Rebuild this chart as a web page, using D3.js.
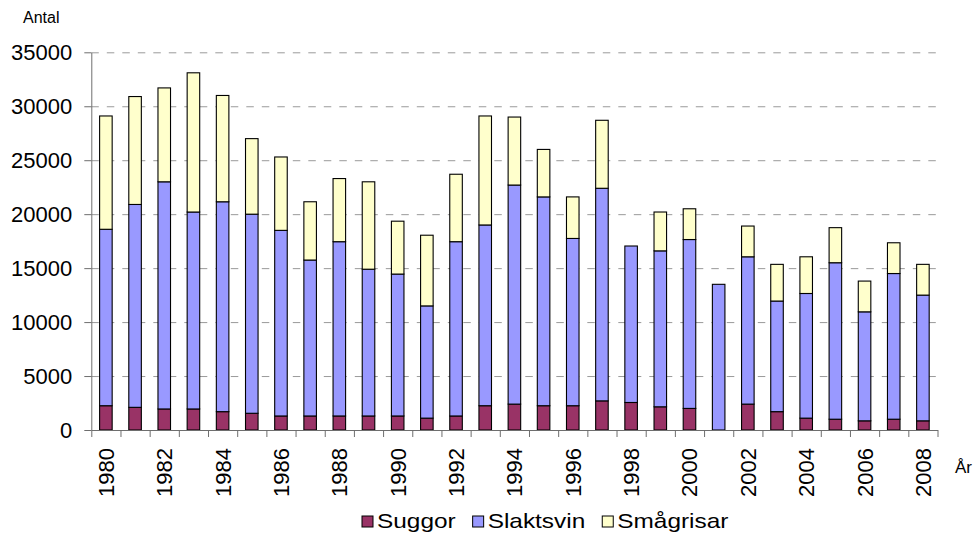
<!DOCTYPE html>
<html>
<head>
<meta charset="utf-8">
<script src="https://cdn.jsdelivr.net/npm/d3@7"></script>
<style>
  body { margin: 0; background: #fff; }
  svg { font-family: "Liberation Sans", Arial, sans-serif; }
  .axis .domain { stroke: #6e6e6e; }
  .axis .tick line { stroke: #6e6e6e; }
  .axis text { fill: #000; }
</style>
</head>
<body>
<div id="chart"></div>
<script>
/* global d3 */
const years = ['1980','1981','1982','1983','1984','1985','1986','1987','1988','1989',
  '1990','1991','1992','1993','1994','1995','1996','1997','1998','1999',
  '2000','2001','2002','2003','2004','2005','2006','2007','2008'];
const xTickLabels = ['1980','1982','1984','1986','1988','1990','1992','1994','1996','1998',
  '2000','2002','2004','2006','2008'];
const seriesNames = ['Suggor', 'Slaktsvin', 'Smågrisar'];
const seriesColors = ['#993366', '#9999ff', '#ffffcc'];
const suggor = [2250, 2100, 1950, 1950, 1700, 1550, 1300, 1300, 1300, 1300,
  1300, 1100, 1300, 2250, 2400, 2250, 2250, 2700, 2550, 2150,
  2000, 0, 2400, 1700, 1100, 1000, 850, 1000, 850];
const slaktsvin = [16350, 18800, 21050, 18250, 19450, 18450, 17200, 14450, 16150, 13600,
  13150, 10400, 16150, 16750, 20300, 19350, 15500, 19700, 14500, 14450,
  15650, 13500, 13650, 10250, 11550, 14500, 10100, 13500, 11650];
const smagrisar = [10500, 10000, 8700, 12900, 9850, 7000, 6800, 5400, 5850, 8100,
  4900, 6550, 6250, 10100, 6300, 4400, 3850, 6300, 0, 3600,
  2850, 0, 2850, 3400, 3400, 3250, 2850, 2850, 2850];
const yTicks = [0, 5000, 10000, 15000, 20000, 25000, 30000, 35000];

function appendGroupTo (name, parent) {
  return parent.append('g').attr('class', name);
}

function chart () {
  const W = 975, H = 537;
  const margin = {top: 52.3, right: 37.5, bottom: 107, left: 91.3};
  let w = W - margin.left - margin.right;
  let h = H - margin.top - margin.bottom;

  let svg = d3.select('#chart')
    .append('svg')
    .attr('width', W)
    .attr('height', H);

  let mContainer = appendGroupTo('mContainer', svg)
    .attr('transform', `translate(${margin.left}, ${margin.top})`);
  let grid = appendGroupTo('grid', mContainer);
  let dataCont = appendGroupTo('dataCont', mContainer);
  let axes = appendGroupTo('axes', mContainer);

  let table = years.map((y, i) => ({
    year: y, Suggor: suggor[i], Slaktsvin: slaktsvin[i], 'Smågrisar': smagrisar[i]
  }));
  let stacked = d3.stack().keys(seriesNames)(table);

  let xScale = d3.scaleBand()
    .domain(years)
    .range([0, w])
    .paddingInner(0.57)
    .paddingOuter(0.285);
  // category boundaries for tick marks
  let xEdge = d3.scaleLinear().domain([0, years.length]).range([0, w]);

  let yScale = d3.scaleLinear()
    .domain([0, 35000])
    .range([h, 0]);

  // Gridlines
  grid.call(d3.axisLeft(yScale).tickValues(yTicks.filter(d => d > 0)).tickSize(-w).tickFormat(''));
  grid.select('.domain').remove();
  grid.selectAll('.tick line')
    .style('stroke', '#9a9a9a')
    .style('stroke-dasharray', '7.5, 8');

  // Bars
  let layers = dataCont.selectAll('g.layer')
    .data(stacked)
    .join('g')
    .attr('class', 'layer')
    .style('fill', (d, i) => seriesColors[i]);

  layers.selectAll('rect')
    .data(d => d.filter(s => s[1] - s[0] > 0))
    .join('rect')
    .attr('x', d => xScale(d.data.year))
    .attr('y', d => yScale(d[1]))
    .attr('width', xScale.bandwidth())
    .attr('height', d => yScale(d[0]) - yScale(d[1]))
    .style('stroke', '#000')
    .style('stroke-width', 1.1);

  // Y axis
  let yAxisCont = appendGroupTo('axis', axes);
  yAxisCont.call(d3.axisLeft(yScale).tickValues(yTicks).tickFormat(d3.format('d'))
    .tickSize(7).tickPadding(12).tickSizeOuter(0));
  yAxisCont.selectAll('text').style('font-size', '22px');

  // X axis with ticks on category edges
  let xAxisCont = appendGroupTo('axis', axes).attr('transform', `translate(0, ${h})`);
  xAxisCont.call(d3.axisBottom(xEdge).ticks(years.length).tickSize(7).tickFormat('').tickSizeOuter(0));

  xAxisCont.selectAll('text.label')
    .data(xTickLabels)
    .join('text')
    .attr('class', 'label')
    .attr('transform', d => `translate(${xScale(d) + xScale.bandwidth() / 2 + 8}, 18) rotate(-90)`)
    .style('text-anchor', 'end')
    .style('font-size', '22px')
    .text(d => d);

  svg.append('text')
    .attr('x', 955)
    .attr('y', 473)
    .style('font-size', '17px')
    .text('År');

  svg.append('text')
    .attr('x', 23)
    .attr('y', 23)
    .style('font-size', '16px')
    .text('Antal');

  // Legend
  let legend = appendGroupTo('legend', svg);
  let lx = 362;
  seriesNames.forEach((name, i) => {
    legend.append('rect')
      .attr('x', lx)
      .attr('y', 516)
      .attr('width', 11)
      .attr('height', 11)
      .style('fill', seriesColors[i])
      .style('stroke', '#000')
      .style('stroke-width', 1);
    let t = legend.append('text')
      .attr('transform', `translate(${lx + 15}, 527.5) scale(1.22, 1)`)
      .style('font-size', '20px')
      .text(name);
    lx += 15 + t.node().getComputedTextLength() * 1.22 + 17;
  });
}

chart();
</script>
</body>
</html>
